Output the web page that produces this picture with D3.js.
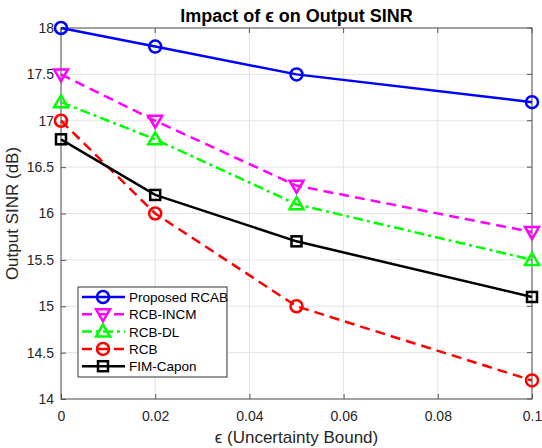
<!DOCTYPE html>
<html>
<head>
<meta charset="utf-8">
<script src="https://cdn.jsdelivr.net/npm/d3@7"></script>
<style>
body { margin: 0; background: #fff; }
text { font-family: "Liberation Sans", Arial, sans-serif; }
</style>
</head>
<body>
<div id="chart"></div>
<script>
const epsilons = [0, 0.02, 0.05, 0.1];
const xTicks = [0, 0.02, 0.04, 0.06, 0.08, 0.1];
const yTicks = [14, 14.5, 15, 15.5, 16, 16.5, 17, 17.5, 18];

const rcab = [18, 17.8, 17.5, 17.2];
const rcbIncm = [17.5, 17.0, 16.3, 15.8];
const rcbDl = [17.2, 16.8, 16.1, 15.5];
const rcb = [17.0, 16.0, 15.0, 14.2];
const fimCapon = [16.8, 16.2, 15.7, 15.1];

const series = [
  { name: "Proposed RCAB", values: rcab, color: "#0000ff", dash: null, marker: "circle" },
  { name: "RCB-INCM", values: rcbIncm, color: "#ff00ff", dash: "10,6", marker: "down" },
  { name: "RCB-DL", values: rcbDl, color: "#00ff00", dash: "10,4,3,4", marker: "up" },
  { name: "RCB", values: rcb, color: "#ff0000", dash: "10,6", marker: "circle" },
  { name: "FIM-Capon", values: fimCapon, color: "#000000", dash: null, marker: "square" }
];

var margin = { top: 28, right: 10, bottom: 49, left: 61 },
    width = 542 - margin.left - margin.right,
    height = 448 - margin.top - margin.bottom;

var svg = d3.select("#chart")
    .append("svg")
    .attr("width", 542)
    .attr("height", 448)
    .append("g")
    .attr("transform", "translate(" + margin.left + "," + margin.top + ")");

var x = d3.scaleLinear().domain([0, 0.1]).range([0, width]);
var y = d3.scaleLinear().domain([14, 18]).range([height, 0]);

// grid
svg.append("g").selectAll("line").data(xTicks).join("line")
    .attr("x1", d => x(d)).attr("x2", d => x(d))
    .attr("y1", 0).attr("y2", height)
    .attr("stroke", "#e3e3e3").attr("stroke-width", 1);
svg.append("g").selectAll("line").data(yTicks).join("line")
    .attr("y1", d => y(d)).attr("y2", d => y(d))
    .attr("x1", 0).attr("x2", width)
    .attr("stroke", "#e3e3e3").attr("stroke-width", 1);

// axes
function styleAxis(g) {
    g.select(".domain").remove();
    g.selectAll(".tick line").attr("stroke", "#555");
    g.selectAll("text").style("font-size", "14px").attr("fill", "#262626");
}

svg.append("g")
    .attr("transform", "translate(0," + height + ")")
    .call(d3.axisBottom(x).tickValues(xTicks).tickFormat(d => d === 0 ? "0" : String(+d.toFixed(2)))
        .tickSizeInner(-5).tickSizeOuter(0).tickPadding(12))
    .call(styleAxis);

svg.append("g")
    .call(d3.axisLeft(y).tickValues(yTicks).tickFormat(d => String(d))
        .tickSizeInner(-5).tickSizeOuter(0).tickPadding(7))
    .call(styleAxis);

// right side ticks and top ticks
svg.append("g").selectAll("line").data(yTicks).join("line")
    .attr("x1", width).attr("x2", width - 5)
    .attr("y1", d => y(d)).attr("y2", d => y(d))
    .attr("stroke", "#555");
svg.append("g").selectAll("line").data(xTicks).join("line")
    .attr("x1", d => x(d)).attr("x2", d => x(d))
    .attr("y1", 0).attr("y2", 5)
    .attr("stroke", "#555");

// box
svg.append("rect")
    .attr("width", width).attr("height", height)
    .attr("fill", "none").attr("stroke", "#555").attr("stroke-width", 1);

// labels
svg.append("text")
    .attr("x", width / 2).attr("y", -6)
    .attr("text-anchor", "middle")
    .style("font-size", "18px").style("font-weight", "bold")
    .attr("fill", "#000")
    .text("Impact of ϵ on Output SINR");

svg.append("text")
    .attr("x", width / 2).attr("y", height + 44)
    .attr("text-anchor", "middle")
    .style("font-size", "17px").attr("fill", "#262626")
    .text("ϵ (Uncertainty Bound)");

svg.append("text")
    .attr("transform", "rotate(-90)")
    .attr("x", -height / 2).attr("y", -43)
    .attr("text-anchor", "middle")
    .style("font-size", "17px").attr("fill", "#262626")
    .text("Output SINR (dB)");

function drawMarker(g, type, color, cx, cy) {
    if (type === "circle") {
        g.append("circle").attr("cx", cx).attr("cy", cy).attr("r", 6)
            .attr("fill", "none").attr("stroke", color).attr("stroke-width", 2.5);
    } else if (type === "square") {
        g.append("rect").attr("x", cx - 5).attr("y", cy - 5).attr("width", 10).attr("height", 10)
            .attr("fill", "none").attr("stroke", color).attr("stroke-width", 2.5);
    } else {
        const s = type === "up" ? -1 : 1;
        const pts = [[cx - 7, cy - s * 5], [cx + 7, cy - s * 5], [cx, cy + s * 7]];
        g.append("polygon").attr("points", pts.map(p => p.join(",")).join(" "))
            .attr("fill", "none").attr("stroke", color).attr("stroke-width", 2.5);
    }
}

var line = d3.line().x((d, i) => x(epsilons[i])).y(d => y(d));

series.forEach(s => {
    svg.append("path")
        .datum(s.values)
        .attr("fill", "none")
        .attr("stroke", s.color)
        .attr("stroke-width", 2.5)
        .attr("stroke-dasharray", s.dash)
        .attr("d", line);
    var mg = svg.append("g");
    s.values.forEach((v, i) => drawMarker(mg, s.marker, s.color, x(epsilons[i]), y(v)));
});

// legend
var lg = svg.append("g").attr("transform", "translate(" + (78 - margin.left) + "," + (287 - margin.top) + ")");
lg.append("rect").attr("width", 149).attr("height", 90)
    .attr("fill", "#fff").attr("stroke", "#333").attr("stroke-width", 1);
series.forEach((s, i) => {
    var yy = 10 + i * 17.3;
    lg.append("line").attr("x1", 4).attr("x2", 47).attr("y1", yy).attr("y2", yy)
        .attr("stroke", s.color).attr("stroke-width", 2.5).attr("stroke-dasharray", s.dash);
    drawMarker(lg, s.marker, s.color, 25, yy);
    lg.append("text").attr("x", 51).attr("y", yy + 5)
        .style("font-size", "13.5px").attr("fill", "#000").text(s.name);
});
</script>
</body>
</html>
